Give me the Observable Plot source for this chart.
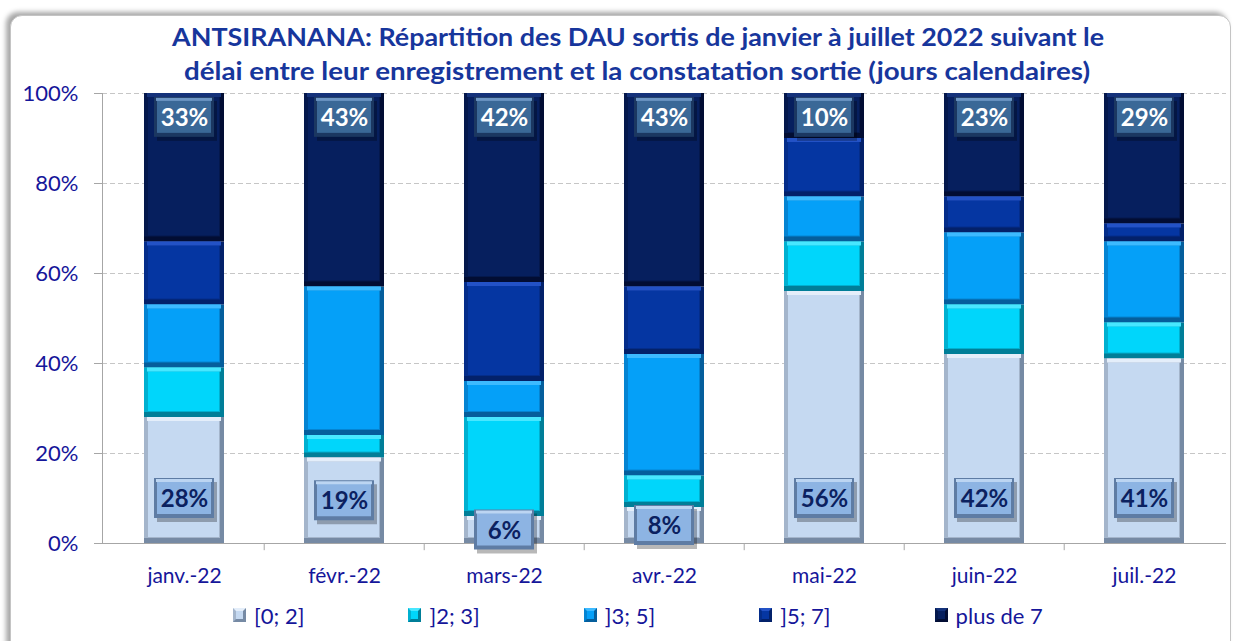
<!DOCTYPE html>
<html><head><meta charset="utf-8">
<script src="https://cdn.jsdelivr.net/npm/d3@7"></script>
<script src="https://cdn.jsdelivr.net/npm/@observablehq/plot@0.6"></script>
<style>
body{margin:0;background:#fff;}
#wrap{position:relative;width:1233px;height:641px;overflow:hidden;background:#fff;font-family:Lato,"Open Sans",sans-serif;}
#frame{position:absolute;left:10px;top:15px;width:1219px;height:640px;border:1px solid #c4c4c4;border-radius:12px;box-shadow:-4px -3px 5px rgba(0,0,0,0.35);background:#fff;}
#chart{position:absolute;left:0;top:0;}
#title{position:absolute;left:0;top:0;}
#legend{position:absolute;top:601px;left:0;width:1276px;height:28px;display:flex;justify-content:center;gap:104px;}
.item{display:flex;align-items:center;font-size:22px;color:#15169a;white-space:nowrap;}
.sw{width:7px;height:8px;margin-right:8px;border-style:solid;border-width:3px;}
</style></head>
<body>
<div id="wrap">
  <div id="frame"></div>
  <div id="chart"></div>
  <svg id="title" width="1233" height="90">
    <text x="638" y="46" text-anchor="middle" textLength="932" lengthAdjust="spacingAndGlyphs" font-family="Lato, 'Open Sans', sans-serif" font-weight="bold" font-size="24" fill="#17369c">ANTSIRANANA: Répartition des DAU sortis de janvier à juillet 2022 suivant le</text>
    <text x="637" y="80" text-anchor="middle" textLength="906" lengthAdjust="spacingAndGlyphs" font-family="Lato, 'Open Sans', sans-serif" font-weight="bold" font-size="24" fill="#17369c">délai entre leur enregistrement et la constatation sortie (jours calendaires)</text>
  </svg>
  <div id="legend"></div>
</div>
<script>
// ---- data ----
const months = ["janv.-22","févr.-22","mars-22","avr.-22","mai-22","juin-22","juil.-22"];
const series = ["[0; 2]","]2; 3]","]3; 5]","]5; 7]","plus de 7"];
const v0_2   = [28,19, 6, 8,56,42,41];
const v2_3   = [11, 5,22, 7,11,11, 8];
const v3_5   = [14,33, 8,27,10,16,18];
const v5_7   = [14, 0,22,15,13, 8, 4];
const vPlus7 = [33,43,42,43,10,23,29];
const yTicks = [0,20,40,60,80,100];

// ---- styles ----
const mainC  = ["#c5d9f1","#00d6fb","#05a0f8","#0536a2","#061f5e"];
const lightC = ["#e4eefa","#48e7ff","#3dbaff","#2352c6","#14327a"];
const sideC  = ["#a4b5cb","#00b0d0","#0584d2","#042d8a","#04184c"];
const darkC  = ["#768aa4","#007e98","#055e9c","#03216a","#020d33"];
const navy = "#15169a";

const values = [v0_2, v2_3, v3_5, v5_7, vPlus7];
const rows = [];
months.forEach((m, i) => {
  let acc = 0;
  values.forEach((arr, s) => {
    const v = arr[i];
    rows.push({month: m, s, v, y1: acc, y2: acc + v});
    acc += v;
  });
});
const segs = rows.filter(d => d.v > 0);

const bottomLabels = months.map((m, i) => ({month: m, y: Math.min(v0_2[i] / 2, 10), t: v0_2[i] + "%"}));
const topLabels = months.map((m, i) => ({month: m, y: 100 - 5.3, t: vPlus7[i] + "%"}));

const step = (1226 - 102) / 7;

function boxMarks(data, edge, fill, hi, txt) {
  const base = {x: "month", y1: "y", y2: "y", insetLeft: 10, insetRight: 10};
  return [
    Plot.barY(data, {...base, insetTop: -20, insetBottom: -20, dx: 3, dy: 4, fill: "#000", fillOpacity: 0.28}),
    Plot.barY(data, {...base, insetTop: -20, insetBottom: -20, fill: edge}),
    Plot.barY(data, {...base, insetLeft: 13, insetRight: 13, insetTop: -17, insetBottom: -16, fill: fill}),
    Plot.barY(data, {...base, insetLeft: 12, insetRight: 12, insetTop: -19, insetBottom: 16, fill: hi}),
    Plot.text(data, {x: "month", y: "y", text: "t", fill: txt, fontSize: 24, fontWeight: "bold", dy: 1})
  ];
}

const chart = Plot.plot({
  width: 1233,
  height: 641,
  marginLeft: 102,
  marginRight: 7,
  marginTop: 93,
  marginBottom: 98,
  style: {background: "transparent", fontFamily: "Lato, 'Open Sans', sans-serif", overflow: "visible"},
  x: {domain: months, paddingInner: 0.5, paddingOuter: 0.25, label: null},
  y: {domain: [0, 100], label: null},
  color: {type: "identity"},
  marks: [
    Plot.gridY({ticks: yTicks, stroke: "#c6c6c6", strokeOpacity: 1, strokeDasharray: "5,3"}),
    Plot.frame({anchor: "left", stroke: "#a6a6a6"}),
    Plot.ruleY([0], {stroke: "#a6a6a6"}),
    Plot.ruleX(months.slice(1), {x: d => d, y1: 0, y2: -1.6, dx: -step / 2, stroke: "#a6a6a6"}),
    Plot.axisY({ticks: yTicks, tickFormat: d => d + "%", tickSize: 8, tickPadding: 16, fontSize: 22, fill: navy, stroke: "#a6a6a6", label: null}),
    Plot.axisX({tickSize: 0, tickPadding: 25, fontSize: 21, fill: navy, label: null}),
    // 3D bevelled segments
    Plot.barY(segs, {x: "month", y1: "y1", y2: "y2", fill: d => darkC[d.s]}),
    Plot.barY(segs, {x: "month", y1: "y1", y2: "y2", insetRight: 4, insetBottom: 5, fill: d => sideC[d.s]}),
    Plot.barY(segs, {x: "month", y1: "y1", y2: "y2", insetLeft: 4, insetRight: 5, insetTop: 4, insetBottom: 6, fill: d => mainC[d.s]}),
    Plot.barY(segs, {x: "month", y1: "y2", y2: "y2", insetLeft: 3, insetRight: 3, insetTop: 0, insetBottom: -4, fill: d => lightC[d.s]}),
    ...boxMarks(bottomLabels, "#5e7ca4", "#8db4e3", "#bcd5f2", "#0b2160"),
    ...boxMarks(topLabels, "#1b3761", "#3a6897", "#6e97c5", "#ffffff")
  ]
});
document.getElementById("chart").appendChild(chart);

// legend
const leg = document.getElementById("legend");
series.forEach((name, s) => {
  const it = document.createElement("div");
  it.className = "item";
  const sw = document.createElement("span");
  sw.className = "sw";
  sw.style.background = mainC[s];
  sw.style.borderColor = `${lightC[s]} ${darkC[s]} ${darkC[s]} ${sideC[s]}`;
  it.appendChild(sw);
  const tx = document.createElement("span");
  tx.textContent = name;
  it.appendChild(tx);
  leg.appendChild(it);
});
</script>
</body></html>
